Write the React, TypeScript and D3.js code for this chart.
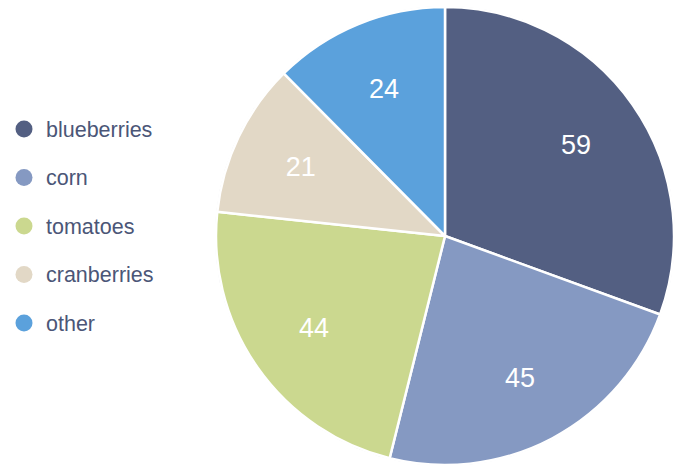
import { useMemo } from 'react';
import * as d3 from 'd3';

// data
const categories = ['blueberries', 'corn', 'tomatoes', 'cranberries', 'other'];
const values = [59, 45, 44, 21, 24];
const colors = ['#535f82', '#8599c2', '#cbd88f', '#e2d8c6', '#5ba1dc'];

const W = 679;
const H = 465;
const cx = 445;
const cy = 236;
const R = 229;

export default function App() {
  const arcs = useMemo(() => {
    const pie = d3.pie<number>().sort(null).value(d => d);
    return pie(values);
  }, []);

  const arc = d3.arc<d3.PieArcDatum<number>>().innerRadius(0).outerRadius(R);
  const labelArc = d3.arc<d3.PieArcDatum<number>>().innerRadius(160).outerRadius(160);

  const legendY = d3.scalePoint<string>().domain(categories).range([129, 323]);

  return (
    <svg width={W} height={H} style={{ position: 'absolute', left: 0, top: 0, fontFamily: 'Liberation Sans, Arial, sans-serif' }}>
      <rect width={W} height={H} fill="#fff" />
      <g transform={`translate(${cx},${cy})`}>
        <circle r={R + 0.5} fill="none" stroke="#dfe3ea" strokeWidth={1} />
        {arcs.map((a, i) => (
          <path key={i} d={arc(a) || ''} fill={colors[i]} stroke="#fff" strokeWidth={2.5} strokeLinejoin="round" />
        ))}
        {arcs.map((a, i) => {
          const [x, y] = labelArc.centroid(a);
          return (
            <text key={i} x={x} y={y} dy="0.36em" textAnchor="middle" fill="#fff" fontSize={27}>
              {a.data}
            </text>
          );
        })}
      </g>
      <g>
        {categories.map((c, i) => (
          <g key={c} transform={`translate(24,${legendY(c)})`}>
            <circle r={8.5} fill={colors[i]} />
            <text x={22} dy="0.35em" fontSize={21.5} fill="#4b5677">{c}</text>
          </g>
        ))}
      </g>
    </svg>
  );
}
